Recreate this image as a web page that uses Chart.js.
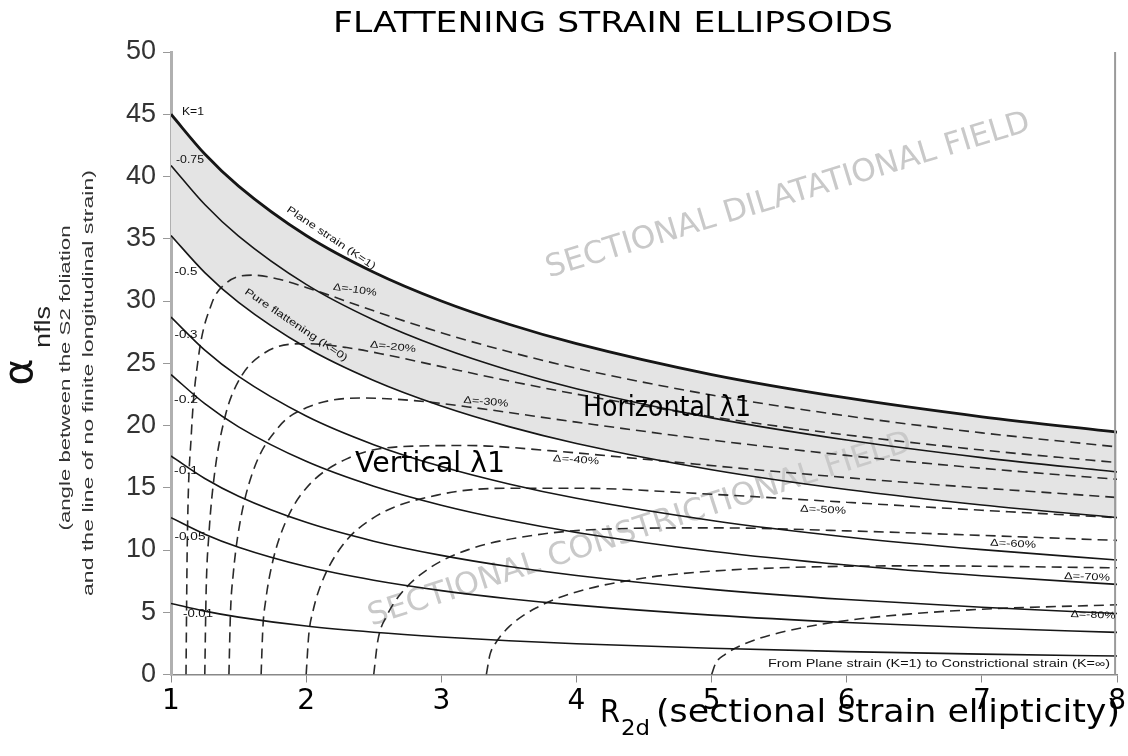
<!DOCTYPE html>
<html><head><meta charset="utf-8">
<script src="https://cdn.jsdelivr.net/npm/chart.js@4.4.1/dist/chart.umd.min.js"></script>
<style>html,body{margin:0;padding:0;background:#fff;overflow:hidden}canvas{display:block}</style>
</head><body>
<canvas id="c" width="1128" height="756"></canvas>
<script>
// ---- data ----
const xTicks = [1,2,3,4,5,6,7,8];
const yTicks = [0,5,10,15,20,25,30,35,40,45,50];
const rK = [1,1.25,1.5,2,2.5,3,3.5,4,5,6,7,8];
const k100 = [45,41.81,39.23,35.26,32.31,30.00,28.13,26.57,24.09,22.21,20.70,19.47];
const k075 = [40.89,37.75,35.21,31.33,28.47,26.24,24.44,22.95,20.61,18.83,17.42,16.27];
const k050 = [35.26,32.28,29.89,26.26,23.61,21.56,19.91,18.56,16.45,14.86,13.61,12.60];
const k030 = [28.71,26.05,23.94,20.76,18.46,16.70,15.30,14.15,12.37,11.05,10.03,9.20];
const k020 = [24.09,21.75,19.89,17.12,15.12,13.60,12.39,11.41,9.90,8.79,7.93,7.24];
const k010 = [17.55,15.74,14.32,12.22,10.71,9.57,8.67,7.95,6.84,6.02,5.40,4.90];
const k005 = [12.60,11.27,10.22,8.67,7.57,6.74,6.09,5.57,4.77,4.18,3.73,3.38];
const k001 = [5.71,5.09,4.61,3.89,3.39,3.01,2.71,2.47,2.11,1.84,1.64,1.48];

const d10R = [1.111,1.12,1.15,1.2,1.3,1.4,1.6,1.8,2,2.5,3,3.5,4,5,6,7,8];
const d10A = [0,10.21,19.23,25.24,29.76,31.36,32.08,31.74,31.09,29.21,27.45,25.92,24.60,22.45,20.77,19.41,18.28];
const d20R = [1.25,1.26,1.28,1.32,1.4,1.5,1.7,2,2.3,2.6,3,3.5,4,5,6,7,8];
const d20A = [0,6.70,11.18,15.94,20.70,23.58,25.88,26.57,26.26,25.66,24.73,23.58,22.52,20.70,19.24,18.03,17.02];
const d30R = [1.4286,1.44,1.46,1.5,1.6,1.8,2,2.4,2.8,3.2,4,5,6,7,8];
const d30A = [0,4.95,8.01,11.54,16.10,19.92,21.42,22.21,22.00,21.49,20.27,18.83,17.60,16.56,15.68];
const d40R = [1.6667,1.68,1.7,1.75,1.85,2,2.3,2.7,3.2,3.8,4.5,5.5,6.5,8];
const d40A = [0,3.80,5.90,8.96,12.30,14.96,17.32,18.30,18.39,17.98,17.29,16.28,15.38,14.22];
const d50R = [2,2.02,2.05,2.1,2.25,2.5,3,3.5,4,5,6,7,8];
const d50A = [0,3.27,5.07,6.95,10.10,12.60,14.48,14.96,14.96,14.48,13.83,13.19,12.60];
const d60R = [2.5,2.53,2.6,2.7,2.9,3.2,3.7,4.3,5,6,7,8];
const d60A = [0,2.70,4.78,6.48,8.45,10.03,11.21,11.71,11.78,11.54,11.17,10.77];
const d70R = [3.3333,3.36,3.4,3.5,3.7,4,4.5,5,5.5,6.5,8];
const d70A = [0,1.60,2.49,3.82,5.34,6.63,7.75,8.30,8.57,8.73,8.57];
const d80R = [5,5.03,5.1,5.25,5.5,6,6.5,7,8];
const d80A = [0,0.90,1.62,2.49,3.35,4.34,4.89,5.24,5.60];

const kSeries = [k100,k075,k050,k030,k020,k010,k005,k001];
const kNames = ['K=1','0.75','0.5','0.3','0.2','0.1','0.05','0.01'];
const dSeries = [[d10R,d10A],[d20R,d20A],[d30R,d30A],[d40R,d40A],[d50R,d50A],[d60R,d60A],[d70R,d70A],[d80R,d80A]];
const dNames = ['Δ=-10%','Δ=-20%','Δ=-30%','Δ=-40%','Δ=-50%','Δ=-60%','Δ=-70%','Δ=-80%'];

// ---- datasets ----
const datasets = [];
kSeries.forEach((arr,i)=>{
  datasets.push({
    label: kNames[i],
    data: rK.map((x,j)=>({x:x,y:arr[j]})),
    borderColor: '#161616',
    borderWidth: i===0 ? 2.8 : 1.6,
    pointRadius: 0,
    cubicInterpolationMode: 'monotone',
    fill: i===0 ? {target: 2} : false,
    backgroundColor: '#e4e4e4'
  });
});
dSeries.forEach((p,i)=>{
  datasets.push({
    label: dNames[i],
    data: p[0].map((x,j)=>({x:x,y:p[1][j]})),
    borderColor: '#2a2a2a',
    borderWidth: 1.6,
    borderDash: [10,6],
    pointRadius: 0,
    cubicInterpolationMode: 'monotone',
    fill: false
  });
});

function txt(ctx, s, x, y, font, o) {
  o = o || {};
  ctx.save();
  ctx.font = font;
  ctx.fillStyle = o.color || '#111';
  ctx.textAlign = o.align || 'center';
  ctx.textBaseline = o.baseline || 'middle';
  ctx.translate(x, y);
  if (o.rot) ctx.rotate(o.rot * Math.PI / 180);
  if (o.w) { const m = ctx.measureText(s).width; ctx.scale(o.w / m, 1); }
  ctx.fillText(s, 0, 0);
  ctx.restore();
}

const decor = {
  id: 'decor',
  beforeDatasetsDraw(chart) {
    const ctx = chart.ctx;
    txt(ctx, 'SECTIONAL DILATATIONAL FIELD', 788, 196, '31px "DejaVu Sans"', {color:'#c9c9c9', rot:-17, w:505});
    txt(ctx, 'SECTIONAL CONSTRICTIONAL FIELD', 640, 530, '31px "DejaVu Sans"', {color:'#c9c9c9', rot:-18, w:570});
  },
  afterDatasetsDraw(chart) {
    const ctx = chart.ctx;
    const a = chart.chartArea;
    ctx.save();
    ctx.strokeStyle = '#9a9a9a'; ctx.lineWidth = 2;
    ctx.beginPath(); ctx.moveTo(a.right - 2, a.top); ctx.lineTo(a.right - 2, a.bottom); ctx.stroke();
    ctx.restore();
    const sf = '10px "Liberation Sans"';
    txt(ctx, 'K=1', 193, 112, sf, {w:22});
    txt(ctx, '-0.75', 190, 160, sf, {w:28});
    txt(ctx, '-0.5', 186, 272, sf, {w:23});
    txt(ctx, '-0.3', 186, 335, sf, {w:23});
    txt(ctx, '-0.2', 186, 400, sf, {w:24});
    txt(ctx, '-0.1', 186, 471, sf, {w:24});
    txt(ctx, '-0.05', 190, 537, sf, {w:31});
    txt(ctx, '-0.01', 198, 614, sf, {w:30});
    txt(ctx, 'Plane strain (K=1)', 331, 238, sf, {rot:34, w:105});
    txt(ctx, 'Pure flattening (K=0)', 296, 325, sf, {rot:34, w:122});
    txt(ctx, 'Δ=-10%', 355, 290, sf, {rot:8, w:44});
    txt(ctx, 'Δ=-20%', 393, 347, sf, {rot:6, w:46});
    txt(ctx, 'Δ=-30%', 486, 402, sf, {rot:5, w:45});
    txt(ctx, 'Δ=-40%', 576, 460, sf, {rot:4, w:46});
    txt(ctx, 'Δ=-50%', 823, 510, sf, {rot:3, w:46});
    txt(ctx, 'Δ=-60%', 1013, 544, sf, {rot:3, w:46});
    txt(ctx, 'Δ=-70%', 1087, 577, sf, {rot:2, w:46});
    txt(ctx, 'Δ=-80%', 1093, 615, sf, {rot:2, w:45});
    txt(ctx, 'From Plane strain (K=1) to Constrictional strain (K=∞)', 939, 664, sf, {w:342});
    txt(ctx, 'Horizontal λ1', 667, 409, '28px "DejaVu Sans"', {w:168, color:'#000'});
    txt(ctx, 'Vertical λ1', 430, 465, '28px "DejaVu Sans"', {w:150, color:'#000'});
  },
  afterDraw(chart) {
    const ctx = chart.ctx;
    txt(ctx, 'FLATTENING STRAIN ELLIPSOIDS', 613, 24, '29px "DejaVu Sans"', {w:560, color:'#000'});
    txt(ctx, 'R', 600, 722, '32px "DejaVu Sans"', {align:'left', baseline:'alphabetic', w:20, color:'#000'});
    txt(ctx, '2d', 621, 735, '22px "DejaVu Sans"', {align:'left', baseline:'alphabetic', w:29, color:'#000'});
    txt(ctx, '(sectional strain ellipticity)', 656, 722, '32px "DejaVu Sans"', {align:'left', baseline:'alphabetic', w:464, color:'#000'});
    txt(ctx, 'α', 22, 372, '40px "DejaVu Sans"', {rot:-90, w:27});
    txt(ctx, 'nfls', 44, 327, '22px "Liberation Sans"', {rot:-90, w:42, color:'#222'});
    txt(ctx, '(angle between the S2 foliation', 66, 378, '15px "Liberation Sans"', {rot:-90, w:305, color:'#333'});
    txt(ctx, 'and the line of no finite longitudinal strain)', 89, 383, '15px "Liberation Sans"', {rot:-90, w:426, color:'#333'});
  }
};

new Chart(document.getElementById('c'), {
  type: 'line',
  data: { datasets: datasets },
  plugins: [decor],
  options: {
    responsive: false,
    animation: false,
    devicePixelRatio: 1,
    layout: { padding: { left: 0, right: 7, top: 52, bottom: 0 } },
    plugins: {
      legend: { display: false },
      title: { display: false },
      tooltip: { enabled: false },
      filler: { drawTime: 'beforeDatasetsDraw', propagate: false }
    },
    scales: {
      x: {
        type: 'linear', min: 1, max: 8,
        afterBuildTicks: s => { s.ticks = xTicks.map(v => ({value: v})); },
        afterFit: s => { s.height = 81.5; },
        grid: { drawOnChartArea: false, drawTicks: true, tickLength: 8, color: '#888', lineWidth: 1 },
        border: { display: true, color: '#888', width: 1.5 },
        ticks: { color: '#000', font: { family: 'DejaVu Sans', size: 28 }, padding: 2, maxRotation: 0 }
      },
      y: {
        type: 'linear', min: 0, max: 50,
        afterBuildTicks: s => { s.ticks = yTicks.map(v => ({value: v})); },
        afterFit: s => { s.width = 171; },
        grid: { drawOnChartArea: false, drawTicks: true, tickLength: 8, color: '#999', lineWidth: 1 },
        border: { display: true, color: '#b0b0b0', width: 3 },
        ticks: { color: '#333', font: { family: 'Liberation Sans', size: 27 }, padding: 7 }
      }
    }
  }
});
</script>
</body></html>
